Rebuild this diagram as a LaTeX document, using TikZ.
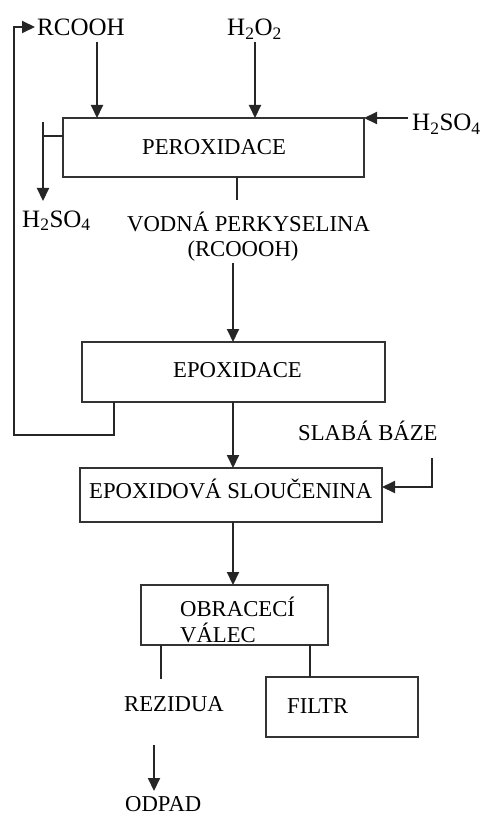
\documentclass[tikz,border=0pt]{standalone}
\usepackage{fontspec}
\setmainfont{Liberation Serif}
\usetikzlibrary{arrows.meta}
\begin{document}
\begin{tikzpicture}[x=1pt,y=-1pt,
 ln/.style={line width=2pt, draw=black!85},
 arr/.style={ln, -{Triangle[length=13pt,width=12pt]}},
 box/.style={draw=black!80, line width=2pt, inner sep=0pt, outer sep=0pt, rectangle},
 lbl/.style={inner sep=0pt, anchor=base west, font=\fontsize{22.7}{26}\selectfont},
 big/.style={inner sep=0pt, anchor=base west, font=\fontsize{25}{28}\selectfont}]
\useasboundingbox (0,0) rectangle (483,818);
% boxes
\node[box, minimum width=301pt, minimum height=59pt] (perox) at (213.5,147.5) {};
\node[box, minimum width=303pt, minimum height=60pt] (epox) at (233.5,372) {};
\node[box, minimum width=302pt, minimum height=54pt] (epcomp) at (231,495) {};
\node[box, minimum width=187pt, minimum height=60pt] (obr) at (234.5,615) {};
\node[box, minimum width=152pt, minimum height=60pt] (filtr) at (342,707) {};
% texts
\node[big] (trcooh) at (37,36) {RCOOH};
\node[big] (th2o2) at (227,36) {H\textsubscript{2}O\textsubscript{2}};
\node[big] (th2so4r) at (412,131) {H\textsubscript{2}SO\textsubscript{4}};
\node[big] (th2so4l) at (22,227) {H\textsubscript{2}SO\textsubscript{4}};
\node[lbl] (tperox) at (142,155) {PEROXIDACE};
\node[lbl] (tvodna) at (127,231) {VODNÁ PERKYSELINA};
\node[lbl, anchor=base] (trcoooh) at (243,256) {(RCOOOH)};
\node[lbl] (tepox) at (173,377) {EPOXIDACE};
\node[lbl] (tslaba) at (298,440) {SLABÁ BÁZE};
\node[lbl] (tepcomp) at (89,498) {EPOXIDOVÁ SLOUČENINA};
\node[lbl] (tobr1) at (180,616) {OBRACECÍ};
\node[lbl] (tobr2) at (180,642) {VÁLEC};
\node[lbl] (trez) at (124,711) {REZIDUA};
\node[lbl] (tfiltr) at (287,713) {FILTR};
\node[lbl] (todpad) at (125,811) {ODPAD};
% coordinates
\coordinate (a1) at (97,42);
\coordinate (a2) at (255,42);
\coordinate (a3) at (408,118);
\coordinate (b1) at (43,136);
\coordinate (b2) at (43,122);
\coordinate (b3) at (43,201);
\coordinate (c1) at (237,200);
\coordinate (c2) at (233,263);
\coordinate (f1) at (114,435);
\coordinate (f2) at (14,435);
\coordinate (f3) at (14,27);
\coordinate (f4) at (35,27);
\coordinate (d1) at (233,402);
\coordinate (s1) at (432,458);
\coordinate (s2) at (432,487);
\coordinate (e1) at (233,522);
\coordinate (r1) at (161,679);
\coordinate (t1) at (310,645);
\coordinate (o1) at (154,745);
\coordinate (o2) at (154,791);
% connectors
\draw[arr] (a1) -- (a1 |- perox.north);
\draw[arr] (a2) -- (a2 |- perox.north);
\draw[arr] (a3 |- perox.north east) -- (perox.north east);
\draw[ln] (b1 -| perox.west) -- (b1);
\draw[arr] (b2) -- (b3);
\draw[ln] (c1 |- perox.south) -- (c1);
\draw[arr] (c2) -- (c2 |- epox.north);
\draw[arr] (f1 |- epox.south) -- (f1) -- (f2) -- (f3) -- (f4);
\draw[arr] (d1) -- (d1 |- epcomp.north);
\draw[arr] (s1) -- (s2) -- (s2 -| epcomp.east);
\draw[arr] (e1) -- (e1 |- obr.north);
\draw[ln] (r1 |- obr.south) -- (r1);
\draw[ln] (t1) -- (t1 |- filtr.north);
\draw[arr] (o1) -- (o2);
\end{tikzpicture}
\end{document}
